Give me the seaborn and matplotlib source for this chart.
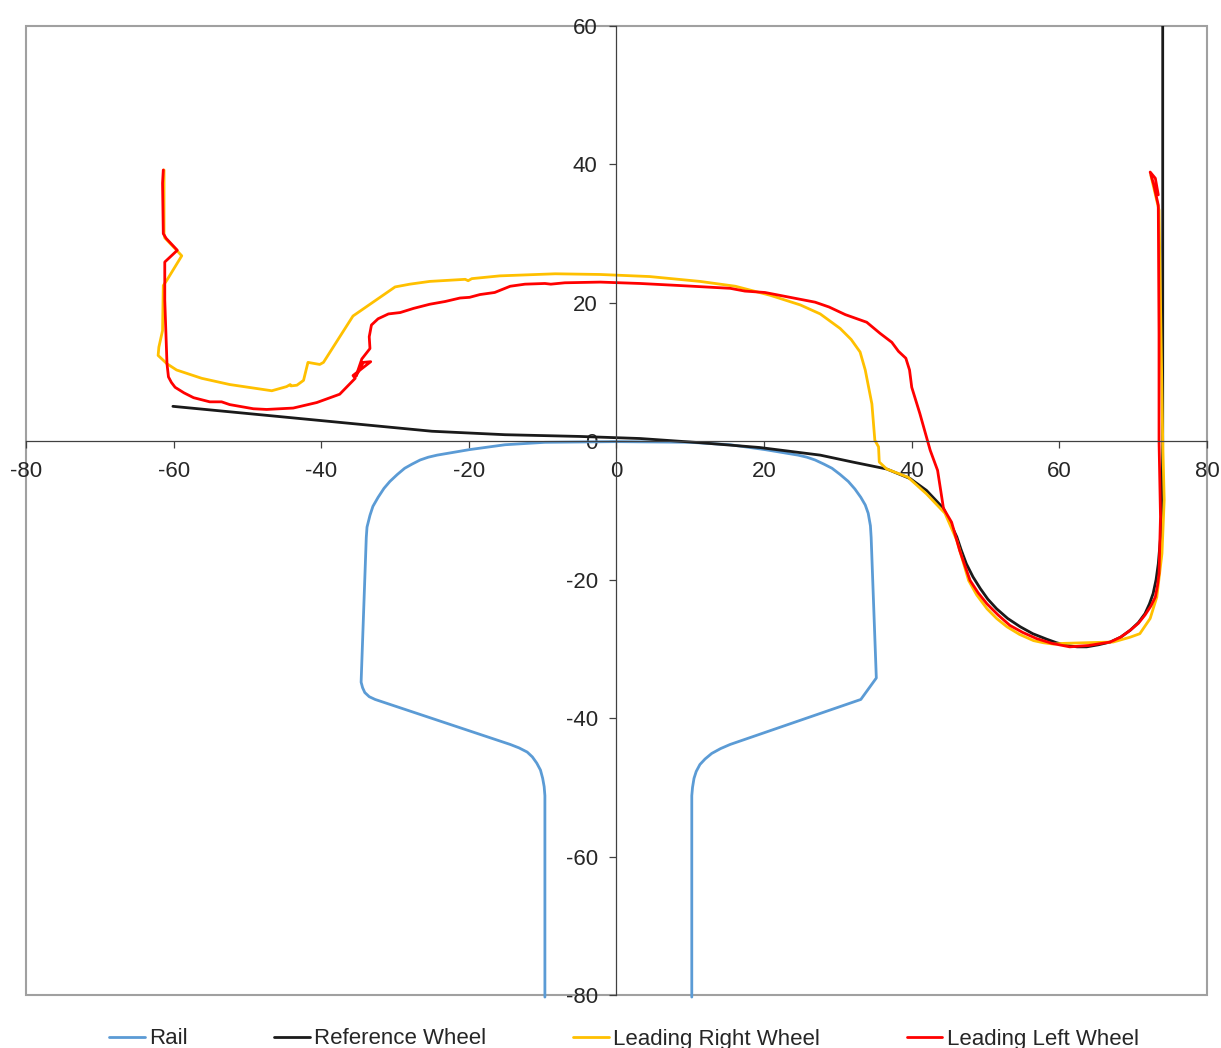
import seaborn as sns
import matplotlib.pyplot as plt
import pandas as pd

# Perfis (mm)
rail_x = [-9.7, -9.7, -9.8, -10, -10.3, -10.8, -11.4, -12.1, -13.2, -14.4, -32.7, -33.5, -34.1, -34.4, -34.6, -33.9,
          -33.8, -33.4, -33, -32.3, -31.5, -30.7, -29.7, -28.7, -27.7, -26.6, -25.5, -24.3, -19.9, -15.1, -9.7, 0, 10,
          15.4, 20.1, 24.6, 25.8, 26.9, 28.1, 29.2, 30.3, 31.4, 32.3, 33.1, 33.7, 34.1, 34.4, 34.5, 35.2, 33.1, 15.4,
          14.1, 12.9, 12, 11.3, 10.8, 10.5, 10.3, 10.2, 10.2]
rail_y = [-80.3, -51.2, -49.9, -48.7, -47.5, -46.5, -45.6, -44.9, -44.3, -43.8, -37.3, -36.9, -36.3, -35.6, -34.8,
          -13.9, -12.4, -10.7, -9.4, -8.1, -6.8, -5.8, -4.8, -3.9, -3.3, -2.7, -2.3, -2.0, -1.2, -0.5, -0.15, -0.05,
          -0.15, -0.5, -1.2, -2, -2.3, -2.7, -3.3, -3.9, -4.8, -5.8, -6.9, -8.1, -9.2, -10.4, -12.2, -13.9, -34.2,
          -37.3, -43.8, -44.4, -45.1, -45.9, -46.7, -47.7, -48.7, -50, -51.2, -80.3]

ref_x = [-60.1, -25, -15.1, -5, 3.2, 11.3, 19.4, 27.6, 32, 36.6, 39.8, 42, 44.3, 46.1, 46.7, 47.4, 48.3, 49.3, 50.3,
         51.5, 53, 54.7, 56.4, 58.3, 59.6, 61, 62.4, 63.7, 65.3, 66.9, 68.3, 69.6, 70.7, 71.6, 72.2, 72.7, 73.1, 73.4,
         73.7, 73.9, 74, 74]
ref_y = [5.05, 1.45, 0.95, 0.7, 0.4, -0.2, -0.9, -2, -3, -4, -5.4, -7.1, -9.7, -13.8, -15.7, -17.7, -19.6, -21.3,
         -22.8, -24.2, -25.6, -26.8, -27.8, -28.6, -29.1, -29.5, -29.7, -29.7, -29.4, -29, -28.3, -27.3, -26.2, -24.9,
         -23.5, -22, -20, -17.7, -14, -10.4, 0.1, 60]

right_x = [-61.3, -61.3, -61.2, -59.6, -58.9, -60.9, -61.4, -61.5, -62, -62.1, -60.9, -59.6, -56.2, -52.4, -46.7,
           -44.7, -44.2, -44.1, -43.3, -42.4, -41.8, -40.2, -39.7, -35.7, -30, -28, -25.3, -20.5, -20.1, -19.6, -15.8,
           -8.3, -2.2, 4.5, 11.3, 16.1, 20.8, 24.9, 27.6, 30.3, 31.8, 33, 33.7, 34.6, 35, 35.5, 35.6, 36.6, 39.5, 42,
           44.5, 46.1, 47.7, 48.8, 50.2, 51.5, 52.9, 54.6, 56.5, 57.8, 59.2, 60.5, 63.7, 67.3, 69.6, 70.9, 72.3, 73.2,
           73.9, 74.2, 74, 73.5, 72.4]
right_y = [39.2, 30, 29.4, 27.6, 26.8, 23.3, 22.5, 16, 13.6, 12.4, 11.2, 10.3, 9.1, 8.2, 7.3, 7.9, 8.2, 8.0, 8.1, 8.8,
           11.4, 11.1, 11.4, 18.1, 22.3, 22.7, 23.1, 23.4, 23.2, 23.5, 23.9, 24.2, 24.1, 23.8, 23.1, 22.4, 21.1, 19.7,
           18.4, 16.3, 14.7, 12.9, 10.3, 5.4, 0.15, -0.8, -3, -4, -5.2, -7.6, -10.4, -14.3, -20.1, -22.2, -24.2, -25.6,
           -26.8, -27.9, -28.8, -29.1, -29.3, -29.2, -29.1, -29, -28.3, -27.8, -25.6, -22.5, -16.2, -8.5, 0.1, 33.4,
           38.4]

left_x = [-61.4, -61.5, -61.4, -61, -59.5, -61.2, -61.2, -60.9, -60.7, -60.3, -59.8, -58.6, -57.3, -55.1, -53.5, -52.4,
          -49.2, -47.4, -43.8, -40.6, -37.5, -35.4, -35.7, -33.3, -34.3, -35.3, -34.5, -33.4, -33.5, -33.2, -32.3,
          -30.9, -29.3, -27.5, -25.3, -23.2, -21.2, -19.9, -18.5, -16.5, -14.4, -12.4, -9.7, -8.9, -7, -2.2, 3.2, 8.6,
          15.4, 17.4, 20.1, 23.5, 26.9, 28.8, 31, 33.9, 35.7, 37.3, 38.2, 39.2, 39.7, 40, 41.1, 42.5, 43.5, 44.3, 45.4,
          46.5, 47.9, 49, 50.2, 51.7, 53.3, 55, 56.9, 59, 61.4, 64, 66.9, 68.3, 69.6, 70.7, 71.6, 72.4, 73, 73.3, 73.5,
          73.6, 73.7, 73.5, 73.5, 73.4, 72.8, 72.3, 73, 73.4]
left_y = [39.2, 37.3, 30, 29.3, 27.6, 25.9, 20.4, 11.2, 9.3, 8.5, 7.8, 7, 6.3, 5.7, 5.7, 5.3, 4.7, 4.6, 4.8, 5.6, 6.8,
          9.1, 9.5, 11.5, 11.4, 9.4, 11.9, 13.4, 15.1, 16.8, 17.7, 18.4, 18.6, 19.2, 19.8, 20.2, 20.7, 20.8, 21.2, 21.5,
          22.4, 22.7, 22.8, 22.7, 22.9, 23, 22.8, 22.5, 22.1, 21.7, 21.5, 20.8, 20.1, 19.4, 18.3, 17.2, 15.6, 14.3, 13,
          12, 10.3, 7.8, 4, -1.3, -4.2, -9.7, -11.7, -15.8, -20.1, -21.9, -23.5, -25.1, -26.6, -27.6, -28.5, -29.2,
          -29.7, -29.5, -29, -28.3, -27.3, -26.3, -25.1, -23.8, -22.5, -20.8, -19.1, -15, -10.9, 0.1, 15.6, 34.1, 37,
          38.9, 38, 35.6]

x_ticks = [-80, -60, -40, -20, 0, 20, 40, 60, 80]
y_ticks = [-80, -60, -40, -20, 0, 20, 40, 60]

sns.set_style("white")
plt.rcParams['font.family'] = ['Liberation Sans', 'DejaVu Sans']
plt.rcParams['axes.unicode_minus'] = False

fig = plt.figure(figsize=(12.21, 10.48), dpi=100)
ax = fig.add_axes([26 / 1221, 1 - 995 / 1048, (1207 - 26) / 1221, (995 - 26) / 1048])

# Montar as curvas
sns.lineplot(data=pd.DataFrame({'x': rail_x, 'y': rail_y}), x='x', y='y', sort=False, estimator=None, ax=ax,
             color='#5b9bd5', lw=2.0, label='Rail', clip_on=False)
sns.lineplot(data=pd.DataFrame({'x': ref_x, 'y': ref_y}), x='x', y='y', sort=False, estimator=None, ax=ax,
             color='#1a1a1a', lw=2.0, label='Reference Wheel')
sns.lineplot(data=pd.DataFrame({'x': right_x, 'y': right_y}), x='x', y='y', sort=False, estimator=None, ax=ax,
             color='#ffc000', lw=2.0, label='Leading Right Wheel')
sns.lineplot(data=pd.DataFrame({'x': left_x, 'y': left_y}), x='x', y='y', sort=False, estimator=None, ax=ax,
             color='#ff0000', lw=2.0, label='Leading Left Wheel')

ax.set_xlim(-80, 80)
ax.set_ylim(-80, 60)
ax.set_xlabel('')
ax.set_ylabel('')

# Eixos cruzando no zero, moldura cinza
ax.spines['left'].set_position('zero')
ax.spines['bottom'].set_position('zero')
ax.spines['top'].set_visible(False)
ax.spines['right'].set_visible(False)
ax.spines['left'].set_color('#404040')
ax.spines['bottom'].set_color('#404040')
ax.spines['left'].set_linewidth(0.9)
ax.spines['bottom'].set_linewidth(0.9)
ax.patch.set_edgecolor('#a0a0a0')
ax.patch.set_linewidth(1.5)
ax.set_xticks(x_ticks)
ax.set_yticks(y_ticks)
ax.tick_params(axis='both', which='major', left=True, bottom=True, length=5, width=0.9, color='#404040',
               labelsize=16, labelcolor='#262626')
ax.tick_params(axis='x', pad=9)
ax.tick_params(axis='y', pad=8.5)

handles, labels = ax.get_legend_handles_labels()
ax.get_legend().remove()
fig.legend(handles, labels, ncol=4, loc='center', bbox_to_anchor=(624 / 1221, 1 - 1039 / 1048), frameon=False,
           fontsize=16, labelcolor='#262626', columnspacing=3.9, handlelength=1.6, handletextpad=0.2, borderpad=0)

plt.savefig('out.png', dpi=100)
